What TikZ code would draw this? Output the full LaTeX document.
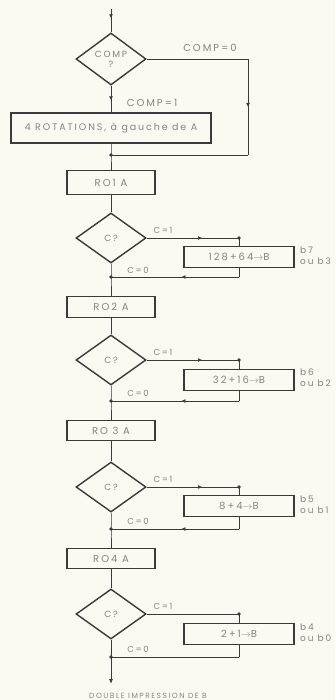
\documentclass[tikz,border=0pt]{standalone}
\usepackage{fontspec}
\setmainfont{Poppins}
\newfontfamily\wfont[LetterSpace=20]{Poppins}
\usetikzlibrary{shapes.geometric,arrows.meta,decorations.markings}
\definecolor{bg}{HTML}{FCF8F2}
\definecolor{ln}{HTML}{3A3A3A}
\definecolor{tx}{HTML}{858585}
\tikzset{
  rbox/.style={draw=ln, line width=1.3pt, inner sep=0pt, text=tx, font=\wfont\fontsize{10}{11}\selectfont},
  sbox/.style={draw=ln, line width=1.3pt, inner sep=0pt, minimum width=110pt, minimum height=21pt, text=tx, font=\wfont\fontsize{10}{11}\selectfont},
  dia/.style={diamond, draw=ln, line width=1.4pt, inner sep=0pt, minimum width=70pt, minimum height=50pt, text=tx, align=center, font=\wfont\fontsize{9}{10}\selectfont},
  conn/.style={draw=ln, line width=0.9pt},
  lbl/.style={text=tx, inner sep=0pt, font=\wfont\fontsize{10}{11}\selectfont},
  clbl/.style={text=tx, inner sep=0pt, font=\wfont\fontsize{8.5}{10}\selectfont},
  side/.style={text=tx, inner sep=0pt, anchor=west, align=left, font=\wfont\fontsize{9}{11}\selectfont},
  jdot/.style={circle, fill=ln, inner sep=0pt, minimum size=3.6pt},
  midarrow/.style={postaction=decorate, decoration={markings, mark=at position #1 with {\arrow{Latex[length=4pt,width=4pt]}}}},
}
\begin{document}
\begin{tikzpicture}[x=1pt,y=-1pt]
\useasboundingbox (0,0) rectangle (335,700);
\fill[bg] (0,0) rectangle (335,700);

% top
\coordinate (top) at (111,9);
\node[dia, minimum height=52pt] (d0) at (111,59) {COMP\\?};
\node[rbox, minimum width=200pt, minimum height=30pt, font=\wfont\fontsize{9.5}{11}\selectfont] (b0) at (111,128) {4 ROTATIONS, à gauche de A};
\coordinate (r0a) at (248,59);
\coordinate (r0b) at (248,155);
\coordinate (j0) at (111,155);
\node[lbl] (lc0) at (210,48) {COMP=0};
\node[lbl] (lc1) at (152,103) {COMP=1};

\draw[conn, midarrow=0.4] (top) -- (d0.north);
\draw[conn, midarrow=0.55] (d0.south) -- (b0.north);
\draw[conn] (d0.east) -- (r0a);
\draw[conn, midarrow=0.5] (r0a) -- (r0b);
\draw[conn] (r0b) -- (j0);

% boxes on spine
\node[rbox, minimum width=88pt, minimum height=24pt] (r1) at (111,182.5) {RO1 A};
\node[rbox, minimum width=88pt, minimum height=21pt] (r2) at (111,307) {RO2 A};
\node[rbox, minimum width=88pt, minimum height=20pt] (r3) at (111,430.5) {RO 3 A};
\node[rbox, minimum width=88pt, minimum height=20pt] (r4) at (111,558.5) {RO4 A};

\draw[conn] (b0.south) -- (j0) -- (r1.north);

% diamonds
\node[dia] (d1) at (111,238) {C?};
\node[dia] (d2) at (111,360) {C?};
\node[dia] (d3) at (111,487) {C?};
\node[dia] (d4) at (111,614) {C?};

% side boxes
\node[sbox] (s1) at (239,257) {128+64$\rightarrow$B};
\node[sbox] (s2) at (239,380) {32+16$\rightarrow$B};
\node[sbox] (s3) at (239,506) {8+4$\rightarrow$B};
\node[sbox] (s4) at (239,634) {2+1$\rightarrow$B};

\node[side] (t1) at (300,256) {b7\\ou b3};
\node[side] (t2) at (300,378) {b6\\ou b2};
\node[side] (t3) at (300,505) {b5\\ou b1};
\node[side] (t4) at (300,633) {b4\\ou b0};

% coordinates
\coordinate (c1) at (239,238); \coordinate (e1) at (239,277); \coordinate (j1) at (111,277);
\coordinate (c2) at (239,360); \coordinate (e2) at (239,401); \coordinate (j2) at (111,401);
\coordinate (c3) at (239,487); \coordinate (e3) at (239,529); \coordinate (j3) at (111,529);
\coordinate (c4) at (239,614); \coordinate (e4) at (239,657); \coordinate (j4) at (111,657);
\coordinate (bot) at (111,684);

% stage connectors
\draw[conn] (r1.south) -- (d1.north);
\draw[conn, midarrow=0.6] (d1.east) -- (c1);
\draw[conn] (c1) -- (s1.north);
\draw[conn] (s1.south) -- (e1);
\draw[conn, midarrow=0.45] (e1) -- (j1);
\draw[conn] (d1.south) -- (j1) -- (r2.north);

\draw[conn] (r2.south) -- (d2.north);
\draw[conn, midarrow=0.6] (d2.east) -- (c2);
\draw[conn] (c2) -- (s2.north);
\draw[conn] (s2.south) -- (e2);
\draw[conn, midarrow=0.45] (e2) -- (j2);
\draw[conn] (d2.south) -- (j2) -- (r3.north);

\draw[conn] (r3.south) -- (d3.north);
\draw[conn, midarrow=0.6] (d3.east) -- (c3);
\draw[conn] (c3) -- (s3.north);
\draw[conn] (s3.south) -- (e3);
\draw[conn, midarrow=0.45] (e3) -- (j3);
\draw[conn] (d3.south) -- (j3) -- (r4.north);

\draw[conn] (r4.south) -- (d4.north);
\draw[conn] (d4.east) -- (c4);
\draw[conn] (c4) -- (s4.north);
\draw[conn] (s4.south) -- (e4);
\draw[conn] (e4) -- (j4);
\draw[conn] (d4.south) -- (j4);
\draw[conn, -{Latex[length=5pt,width=4pt]}] (j4) -- (bot);

% labels
\node[clbl] (l11) at (163,230) {C=1};
\node[clbl] (l10) at (138,270) {C=0};
\node[clbl] (l21) at (163,352) {C=1};
\node[clbl] (l20) at (138,393) {C=0};
\node[clbl] (l31) at (163,479) {C=1};
\node[clbl] (l30) at (138,521) {C=0};
\node[clbl] (l41) at (163,606) {C=1};
\node[clbl] (l40) at (138,649) {C=0};

\node[lbl, font=\wfont\fontsize{7.5}{8}\selectfont] (out) at (148,696) {DOUBLE IMPRESSION DE B};

% dots
\node[jdot] (dj0) at (j0) {};
\node[jdot] (dj1) at (j1) {};
\node[jdot] (dj2) at (j2) {};
\node[jdot] (dj3) at (j3) {};
\node[jdot] (dj4) at (j4) {};
\node[jdot] (dc1) at (c1) {};
\node[jdot] (dc2) at (c2) {};
\node[jdot] (dc3) at (c3) {};
\node[jdot] (dc4) at (c4) {};
\end{tikzpicture}
\end{document}
